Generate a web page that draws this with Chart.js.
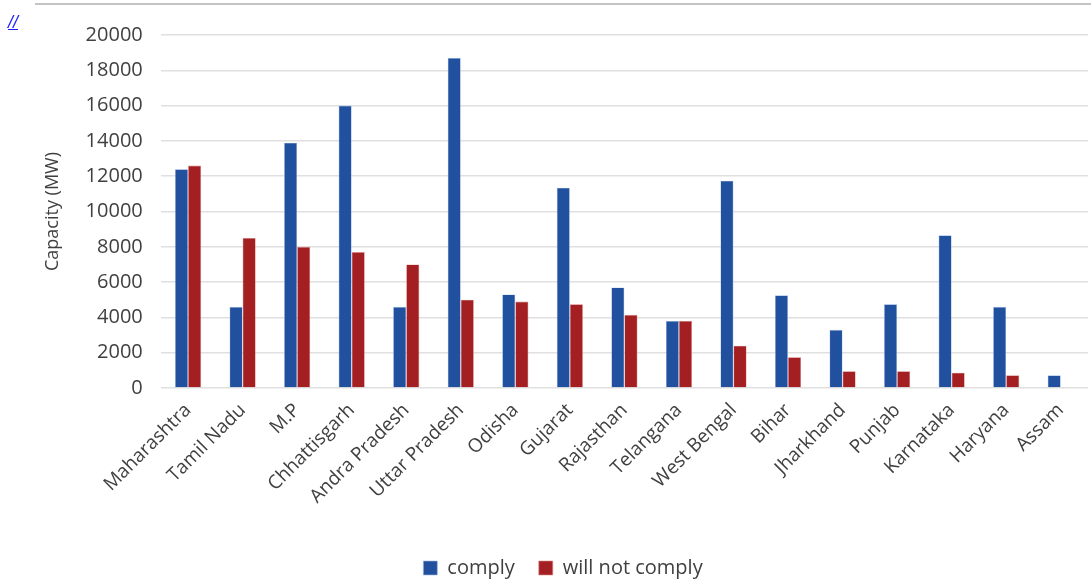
<!DOCTYPE html>
<html>
<head>
<meta charset="utf-8">
<script src="https://cdn.jsdelivr.net/npm/chart.js@4"></script>
<style>
  body { margin: 0; background: #fff; overflow: hidden; }
  #wrap { position: relative; width: 1091px; height: 580px; }
  #topline { position: absolute; left: 35px; right: 0; top: 3px; height: 0; border-top: 2px solid #c4c4c4; }
  #mark { position: absolute; left: 8px; top: 12px; font: italic 18px "Liberation Sans", sans-serif; color: #1a1aff; text-decoration: underline; }
</style>
</head>
<body>
<div id="wrap">
  <div id="topline"></div>
  <a id="mark">//</a>
  <canvas id="capChart" width="1091" height="580"></canvas>
</div>
<script>
const ctx = document.getElementById('capChart').getContext("2d");

const states = [
        'Maharashtra', 'Tamil Nadu', 'M.P', 'Chhattisgarh', 'Andra Pradesh',
        'Uttar Pradesh', 'Odisha', 'Gujarat', 'Rajasthan', 'Telangana',
        'West Bengal', 'Bihar', 'Jharkhand', 'Punjab', 'Karnataka',
        'Haryana', 'Assam',
];
const comply = [12400, 4600, 13900, 16000, 4600, 18700, 5300, 11350, 5700, 3800, 11750, 5250, 3300, 4750, 8650, 4600, 720];
const willNotComply = [12600, 8500, 8000, 7700, 7000, 5000, 4900, 4750, 4150, 3800, 2400, 1750, 950, 950, 870, 720, 0];

const textColor = '#404040';
const font = "'Open Sans', sans-serif";

const data = {
        labels: states,
        datasets: [{
                label: 'comply',
                data: comply,
                backgroundColor: '#21509f',
                borderColor: '#9fbbe6',
                borderWidth: 0.6,
        }, {
                label: 'will not comply',
                data: willNotComply,
                backgroundColor: '#a31f21',
                borderColor: '#e08a8a',
                borderWidth: 0.6,
        }],
};

const config = {
        type: 'bar',
        data: data,
        options: {
                responsive: false,
                animation: false,
                layout: {
                        padding: { left: 38, right: 3, top: 35, bottom: -8 },
                },
                datasets: {
                        bar: { categoryPercentage: 0.48, barPercentage: 1.0 },
                },
                plugins: {
                        legend: {
                                position: 'bottom',
                                labels: {
                                        color: textColor,
                                        font: { family: font, size: 20 },
                                        boxWidth: 14,
                                        boxHeight: 14,
                                        padding: 24,
                                },
                        },
                        tooltip: { enabled: false },
                },
                scales: {
                        y: {
                                min: 0,
                                max: 20000,
                                ticks: {
                                        stepSize: 2000,
                                        color: textColor,
                                        padding: 18,
                                        font: { family: font, size: 20 },
                                        callback: (v) => String(v),
                                },
                                grid: { color: '#e0e0e0', lineWidth: 1.5, drawTicks: false },
                                border: { display: false },
                                title: {
                                        display: true,
                                        text: 'Capacity (MW)',
                                        color: textColor,
                                        font: { family: font, size: 18 },
                                },
                        },
                        x: {
                                ticks: {
                                        color: textColor,
                                        minRotation: 45,
                                        maxRotation: 45,
                                        font: { family: font, size: 19 },
                                },
                                grid: { display: false },
                                border: { display: false },
                                // leave room between the rotated labels and the legend
                                afterFit: (scale) => { scale.height += 23; },
                        },
                },
        },
};

const capChart = new Chart(ctx, config);
</script>
</body>
</html>
